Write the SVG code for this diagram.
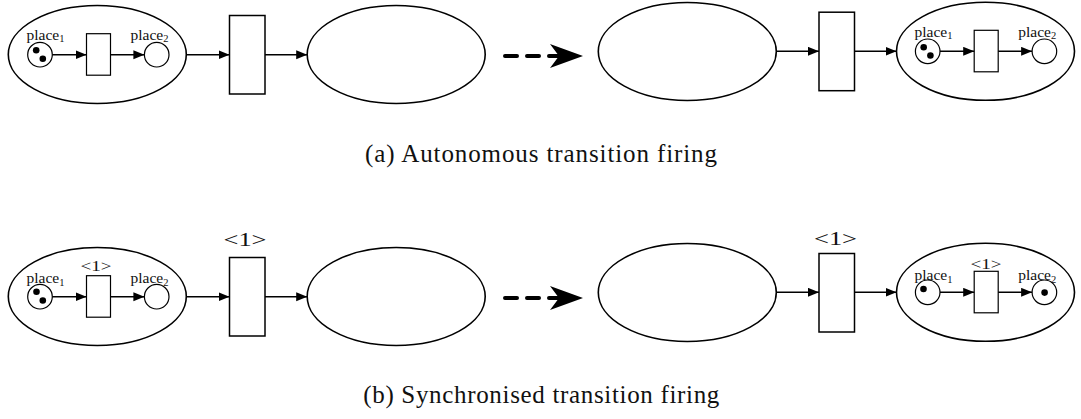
<svg xmlns="http://www.w3.org/2000/svg" width="1081" height="419" viewBox="0 0 1081 419">
  <style>
    .net { fill: none; stroke: #000; stroke-width: 1.6; }
    .trans { fill: #fff; stroke: #000; stroke-width: 1.5; }
    .strans { fill: #fff; stroke: #000; stroke-width: 1.2; }
    .place { fill: #fff; stroke: #000; stroke-width: 1.2; }
    .token { fill: #000; }
    .arc { fill: none; stroke: #000; stroke-width: 1.4; marker-end: url(#tri); }
    .step { fill: none; stroke: #000; stroke-width: 4; stroke-linecap: round; stroke-dasharray: 12 10; marker-end: url(#stealth); }
    text { font-family: 'Liberation Serif', 'DejaVu Serif', serif; fill: #111; }
    .lbl { font-size: 15.5px; }
    .sub { font-size: 10.5px; }
    .guard { font-size: 19px; text-anchor: middle; }
    .sguard { font-size: 14px; text-anchor: middle; }
    .cap { font-size: 25px; text-anchor: middle; }
  </style>
  <defs>
    <marker id="tri" markerUnits="userSpaceOnUse" markerWidth="12" markerHeight="10" refX="11" refY="4.5" orient="auto">
      <path d="M0,0 L11,4.5 L0,9 z" fill="#000"/>
    </marker>
    <marker id="stealth" markerUnits="userSpaceOnUse" markerWidth="34" markerHeight="26" refX="11" refY="12" orient="auto">
      <path d="M0,0 L33,12 L0,24 L9,12 z" fill="#000"/>
    </marker>
    <!-- inner net: place1 -> t -> place2, origin at the net's arc line -->
    <g id="innerNet">
      <circle class="place" cx="-57.3" cy="0" r="12.3"/>
      <rect class="strans" x="-10.8" y="-21" width="24" height="41.5"/>
      <circle class="place" cx="59.4" cy="0" r="12.3"/>
    </g>
  </defs>

  <!-- ===== (a) autonomous firing ===== -->
  <g id="a-net1">
    <ellipse class="net" cx="97.3" cy="54.5" rx="89" ry="49"/>
    <use href="#innerNet" x="97.3" y="54.7"/>
    <circle class="token" cx="36.2" cy="50.2" r="3.3"/>
    <circle class="token" cx="42.8" cy="58.7" r="3.3"/>
    <text class="lbl" x="26.5" y="39.5" font-family="Liberation Serif">place<tspan class="sub" dy="2.5">1</tspan></text>
    <text class="lbl" x="130.5" y="39.5" font-family="Liberation Serif">place<tspan class="sub" dy="2.5">2</tspan></text>
  </g>
  <g id="a-t1"><rect class="trans" x="229.5" y="15.5" width="35.5" height="78.5"/></g>
  <g id="a-net2"><ellipse class="net" cx="396.2" cy="54.5" rx="89" ry="49"/></g>
  <g id="a-net3"><ellipse class="net" cx="687.3" cy="51.5" rx="89" ry="49"/></g>
  <g id="a-t2"><rect class="trans" x="819" y="12.2" width="35.5" height="78.5"/></g>
  <g id="a-net4">
    <ellipse class="net" cx="985.5" cy="51.3" rx="89" ry="49"/>
    <use href="#innerNet" x="985" y="51.3"/>
    <circle class="token" cx="923.7" cy="47.3" r="3.3"/>
    <circle class="token" cx="930.4" cy="55.5" r="3.3"/>
    <text class="lbl" x="914.5" y="36.5">place<tspan class="sub" dy="2.5">1</tspan></text>
    <text class="lbl" x="1018.3" y="36.5">place<tspan class="sub" dy="2.5">2</tspan></text>
  </g>

  <!-- ===== (b) synchronised firing ===== -->
  <g id="b-net1">
    <ellipse class="net" cx="97.3" cy="296.5" rx="89" ry="49"/>
    <use href="#innerNet" x="97.3" y="296.7"/>
    <circle class="token" cx="36.5" cy="291.8" r="3.3"/>
    <circle class="token" cx="42.8" cy="300.5" r="3.3"/>
    <text class="lbl" x="26.5" y="283.3">place<tspan class="sub" dy="2.5">1</tspan></text>
    <text class="lbl" x="130.5" y="283.3">place<tspan class="sub" dy="2.5">2</tspan></text>
    <text class="sguard" x="96" y="270.5" textLength="31" lengthAdjust="spacingAndGlyphs">&lt;1&gt;</text>
  </g>
  <g id="b-t1">
    <rect class="trans" x="229.5" y="257.5" width="35.5" height="78.5"/>
    <text class="guard" x="245" y="246" textLength="43" lengthAdjust="spacingAndGlyphs">&lt;1&gt;</text>
  </g>
  <g id="b-net2"><ellipse class="net" cx="396.2" cy="296.5" rx="89" ry="49"/></g>
  <g id="b-net3"><ellipse class="net" cx="687.3" cy="292.5" rx="89" ry="49"/></g>
  <g id="b-t2">
    <rect class="trans" x="819" y="253.5" width="35.5" height="78.5"/>
    <text class="guard" x="835.5" y="245" textLength="43" lengthAdjust="spacingAndGlyphs">&lt;1&gt;</text>
  </g>
  <g id="b-net4">
    <ellipse class="net" cx="985.5" cy="292.3" rx="89" ry="49"/>
    <use href="#innerNet" x="985" y="292.3"/>
    <circle class="token" cx="923.5" cy="289" r="3.3"/>
    <circle class="token" cx="1044.6" cy="292.6" r="3.3"/>
    <text class="lbl" x="914.5" y="280">place<tspan class="sub" dy="2.5">1</tspan></text>
    <text class="lbl" x="1018.3" y="280">place<tspan class="sub" dy="2.5">2</tspan></text>
    <text class="sguard" x="986" y="269" textLength="31" lengthAdjust="spacingAndGlyphs">&lt;1&gt;</text>
  </g>

  <!-- connectors -->
  <g id="connectors">
    <!-- row (a) -->
    <line class="arc" x1="52.3" y1="54.7" x2="86.5" y2="54.7"/>
    <line class="arc" x1="110.5" y1="54.7" x2="144.4" y2="54.7"/>
    <line class="arc" x1="186.3" y1="54.7" x2="229.5" y2="54.7"/>
    <line class="arc" x1="265" y1="54.7" x2="307.2" y2="54.7"/>
    <line class="step" x1="505" y1="56" x2="561" y2="56"/>
    <line class="arc" x1="776.3" y1="51.3" x2="819" y2="51.3"/>
    <line class="arc" x1="854.5" y1="51.3" x2="896.5" y2="51.3"/>
    <line class="arc" x1="940" y1="51.3" x2="974.2" y2="51.3"/>
    <line class="arc" x1="998.2" y1="51.3" x2="1032.1" y2="51.3"/>
    <!-- row (b) -->
    <line class="arc" x1="52.3" y1="296.7" x2="86.5" y2="296.7"/>
    <line class="arc" x1="110.5" y1="296.7" x2="144.4" y2="296.7"/>
    <line class="arc" x1="186.3" y1="296.7" x2="229.5" y2="296.7"/>
    <line class="arc" x1="265" y1="296.7" x2="307.2" y2="296.7"/>
    <line class="step" x1="505" y1="298" x2="561" y2="298"/>
    <line class="arc" x1="776.3" y1="292.3" x2="819" y2="292.3"/>
    <line class="arc" x1="854.5" y1="292.3" x2="896.5" y2="292.3"/>
    <line class="arc" x1="940" y1="292.3" x2="974.2" y2="292.3"/>
    <line class="arc" x1="998.2" y1="292.3" x2="1032.1" y2="292.3"/>
  </g>

  <!-- captions -->
  <text class="cap" x="541" y="161.5" textLength="352">(a) Autonomous transition firing</text>
  <text class="cap" x="541.3" y="403.3" textLength="356">(b) Synchronised transition firing</text>
</svg>
